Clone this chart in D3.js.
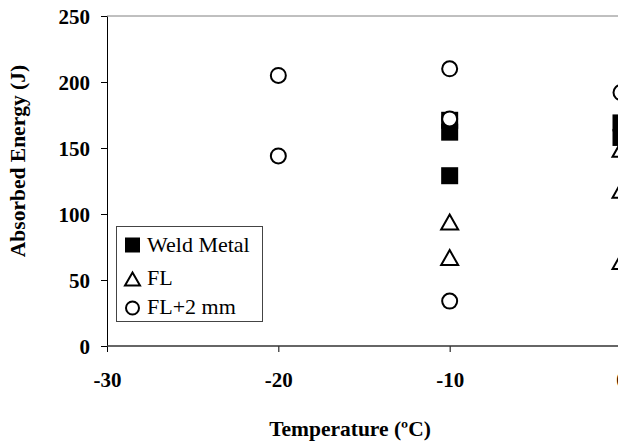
<!DOCTYPE html>
<html><head><meta charset="utf-8">
<script src="https://cdn.jsdelivr.net/npm/d3@7"></script>
<style>
html,body{margin:0;padding:0;background:#fff;overflow:hidden;}
svg{display:block;}
text{font-family:"Liberation Serif","Times New Roman",serif;}
</style></head>
<body>
<script>
// Data
const xTicks = [-30, -20, -10, 0];
const yTicks = [0, 50, 100, 150, 200, 250];
const weldTemp = [-10, -10, -10, 0, 0];
const weldVal  = [171, 162, 129, 169, 158];
const flTemp = [-10, -10, 0, 0, 0];
const flVal  = [94, 67, 149, 118, 64];
const fl2Temp = [-20, -20, -10, -10, -10, 0];
const fl2Val  = [205, 144, 210, 172, 34, 192];
const seriesNames = ["Weld Metal", "FL", "FL+2 mm"];
const xTitle = "Temperature (ºC)";
const yTitle = "Absorbed Energy (J)";

const W = 618, H = 444;
const svg = d3.select("body").append("svg").attr("width", W).attr("height", H);

const x = d3.scaleLinear().domain([-30, 0]).range([107, 621]);
const y = d3.scaleLinear().domain([0, 250]).range([346, 16]);

// plot border top
svg.append("line").attr("x1", 107).attr("x2", W).attr("y1", 16).attr("y2", 16)
  .attr("stroke", "#808080").attr("stroke-width", 1);

// Y axis
const gy = svg.append("g").attr("transform", "translate(107,0)")
  .call(d3.axisLeft(y).tickValues(yTicks).tickSize(6).tickSizeOuter(0).tickPadding(11));
gy.select(".domain").attr("stroke", "#000");
gy.selectAll(".tick line").attr("stroke", "#000");
gy.selectAll(".tick text").attr("font-size", 21).attr("font-weight", "bold")
  .attr("font-family", "Liberation Serif").attr("fill", "#000").attr("dy", "0.34em");

// X axis
const gx = svg.append("g").attr("transform", "translate(0,346)")
  .call(d3.axisBottom(x).tickValues(xTicks).tickFormat(d3.format("d")).tickSize(6).tickSizeOuter(0));
gx.select(".domain").remove();
gx.append("line").attr("x1", 107).attr("x2", W).attr("y1", 0).attr("y2", 0)
  .attr("stroke", "#333").attr("stroke-width", 1.5);
gx.selectAll(".tick line").attr("stroke", "#000");
gx.selectAll(".tick text").attr("font-size", 21).attr("font-weight", "bold")
  .attr("font-family", "Liberation Serif").attr("fill", "#000")
  .attr("y", 41).attr("dy", 0).text(d => d === 0 ? "0" : String(d));

// Titles
svg.append("text").attr("x", 350).attr("y", 436).attr("text-anchor", "middle")
  .attr("font-size", 21.5).attr("font-weight", "bold").text(xTitle);
svg.append("text").attr("transform", "translate(25,161) rotate(-90)").attr("text-anchor", "middle")
  .attr("font-size", 21.5).attr("font-weight", "bold").text(yTitle);

// Marker helpers
function triPath(w, h) {
  return `M0,${-h/2}L${w/2},${h/2}L${-w/2},${h/2}Z`;
}

const weld = weldTemp.map((t, i) => ({t, v: weldVal[i]}));
const fl = flTemp.map((t, i) => ({t, v: flVal[i]}));
const fl2 = fl2Temp.map((t, i) => ({t, v: fl2Val[i]}));

const pts = svg.append("g");
pts.selectAll("rect.w").data(weld).join("rect").attr("class", "w")
  .attr("x", d => x(d.t) - 8.5).attr("y", d => y(d.v) - 8.5)
  .attr("width", 17).attr("height", 17).attr("fill", "#000");
pts.selectAll("path.f").data(fl).join("path").attr("class", "f")
  .attr("transform", d => `translate(${x(d.t)},${y(d.v)})`)
  .attr("d", triPath(17, 15)).attr("fill", "none").attr("stroke", "#000").attr("stroke-width", 2)
  .attr("stroke-linejoin", "miter");
pts.selectAll("circle.c").data(fl2).join("circle").attr("class", "c")
  .attr("cx", d => x(d.t)).attr("cy", d => y(d.v)).attr("r", 7.5)
  .attr("fill", "#fff").attr("stroke", "#000").attr("stroke-width", 2);

// Legend
const lg = svg.append("g");
lg.append("rect").attr("x", 116.5).attr("y", 226.5).attr("width", 146).attr("height", 95)
  .attr("fill", "#fff").attr("stroke", "#444").attr("stroke-width", 1);
const ly = [245, 279, 308];
lg.append("rect").attr("x", 125).attr("y", ly[0] - 7.5).attr("width", 15).attr("height", 15).attr("fill", "#000");
lg.append("path").attr("transform", `translate(132.5,${ly[1]})`).attr("d", triPath(15, 13))
  .attr("fill", "none").attr("stroke", "#000").attr("stroke-width", 2);
lg.append("circle").attr("cx", 132.5).attr("cy", ly[2]).attr("r", 6.5)
  .attr("fill", "#fff").attr("stroke", "#000").attr("stroke-width", 2);
lg.selectAll("text.l").data(seriesNames).join("text").attr("class", "l")
  .attr("x", 147).attr("y", (d, i) => [252, 285, 314][i])
  .attr("font-size", 22).text(d => d);
</script>
</body></html>
